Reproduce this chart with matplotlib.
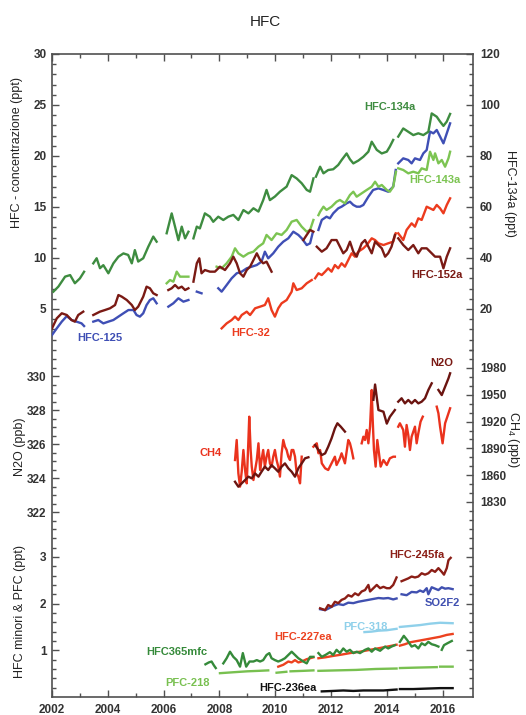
import numpy as np
import matplotlib
matplotlib.use("Agg")
import matplotlib.pyplot as plt

plt.rcParams['font.family'] = ['Liberation Sans', 'DejaVu Sans']
plt.rcParams['mathtext.default'] = 'regular'

nan = np.nan

# ---------------- top panel (ppt) ----------------
hfc134a_t = [2002.05, 2002.23, 2002.47, 2002.65, 2002.82, 2003.00, 2003.15, nan,
             2003.48, 2003.60, 2003.72, 2003.84, 2004.02, 2004.20, 2004.38, 2004.56, 2004.73, 2004.86, 2004.97, 2005.09, 2005.27, 2005.45, 2005.63, 2005.75, nan,
             2006.11, 2006.29, 2006.41, 2006.53, 2006.65, 2006.77, 2006.89, nan,
             2007.07, 2007.19, 2007.30, 2007.48, 2007.66, 2007.78, 2007.96, 2008.14, 2008.32, 2008.50, 2008.68, 2008.86, 2009.04, 2009.22, 2009.40, 2009.57, 2009.69, 2009.81, 2009.99, 2010.17, 2010.41, 2010.59, 2010.77, 2010.95, 2011.13, 2011.25, 2011.37, nan,
             2011.46, 2011.61, 2011.73, 2011.90, 2012.08, 2012.26, 2012.38, 2012.56, 2012.68, 2012.80, 2012.98, 2013.16, 2013.34, 2013.46, 2013.64, 2013.82, 2014.00, 2014.11, 2014.23, nan,
             2014.41, 2014.59, 2014.77, 2014.95, 2015.13, 2015.31, 2015.49, 2015.61, 2015.79, 2015.91, 2016.03, 2016.15, 2016.27]
hfc134a_v = [26.8, 28.8, 32.7, 33.3, 30.1, 32.0, 34.6, nan,
             37.9, 39.9, 36.0, 37.2, 34.0, 37.9, 40.5, 41.8, 41.2, 37.9, 43.1, 38.6, 39.9, 44.4, 48.4, 46.4, nan,
             49.7, 57.5, 52.3, 47.0, 52.3, 47.7, 50.3, nan,
             47.7, 52.3, 51.6, 57.5, 56.2, 54.2, 56.2, 54.9, 56.2, 56.9, 54.9, 58.8, 57.5, 59.5, 58.2, 62.7, 66.7, 62.7, 64.1, 66.0, 68.0, 72.5, 71.2, 69.3, 66.7, 66.0, 71.2, nan,
             71.9, 75.8, 73.2, 74.5, 74.8, 76.5, 78.4, 81.0, 78.7, 77.1, 78.2, 79.7, 81.7, 85.6, 82.4, 81.0, 81.7, 83.7, 86.3, nan,
             87.6, 90.8, 89.5, 88.2, 88.9, 88.2, 89.5, 96.7, 95.4, 93.5, 91.8, 93.5, 96.5]

hfc143a_t = [2006.11, 2006.23, 2006.35, 2006.47, 2006.59, 2006.71, 2006.89, nan,
             2007.90, 2008.08, 2008.26, 2008.44, 2008.56, 2008.68, 2008.86, 2009.04, 2009.22, 2009.40, 2009.57, 2009.69, 2009.87, 2010.05, 2010.23, 2010.41, 2010.59, 2010.77, 2010.95, 2011.13, 2011.25, 2011.37, nan,
             2011.55, 2011.61, 2011.73, 2011.84, 2012.02, 2012.20, 2012.32, 2012.50, 2012.68, 2012.80, 2012.92, 2013.10, 2013.28, 2013.46, 2013.58, 2013.70, 2013.82, 2014.00, 2014.11, 2014.23, 2014.33, nan,
             2014.41, 2014.59, 2014.77, 2014.95, 2015.13, 2015.25, 2015.43, 2015.55, 2015.67, 2015.73, 2015.85, 2015.97, 2016.09, 2016.21, 2016.27]
hfc143a_v = [7.52, 7.84, 7.68, 8.66, 8.17, 8.17, 8.17, nan,
             9.15, 8.99, 9.48, 10.13, 10.95, 10.46, 10.13, 10.46, 10.62, 11.11, 11.44, 12.26, 11.76, 12.42, 12.26, 12.75, 13.56, 13.73, 13.07, 12.58, 12.75, 13.73, nan,
             14.20, 14.54, 15.03, 14.71, 15.03, 15.52, 15.69, 15.36, 16.18, 16.50, 16.01, 16.34, 16.67, 16.99, 17.48, 16.99, 17.16, 16.67, 16.50, 16.99, 18.46, nan,
             18.79, 18.63, 18.30, 18.46, 18.30, 18.79, 18.63, 20.42, 19.61, 20.26, 19.28, 19.61, 18.95, 19.77, 20.42]

hfc125_t = [2002.00, 2002.17, 2002.35, 2002.53, 2002.70, 2002.88, 2003.06, 2003.15, nan,
            2003.48, 2003.66, 2003.84, 2004.02, 2004.20, 2004.38, 2004.56, 2004.74, 2004.92, 2005.03, 2005.15, 2005.27, 2005.39, 2005.51, 2005.63, 2005.75, nan,
            2006.17, 2006.35, 2006.53, 2006.71, 2006.89, nan,
            2007.19, 2007.36, nan,
            2007.96, 2008.08, 2008.26, 2008.44, 2008.62, 2008.80, 2008.98, 2009.16, 2009.34, 2009.51, 2009.63, 2009.75, 2009.93, 2010.11, 2010.29, 2010.47, 2010.65, 2010.83, 2010.95, 2011.13, 2011.25, 2011.34, nan,
            2011.55, 2011.67, 2011.84, 2011.96, 2012.08, 2012.26, 2012.38, 2012.56, 2012.68, 2012.80, 2012.92, 2013.04, 2013.16, 2013.34, 2013.51, 2013.70, 2013.88, 2014.05, 2014.23, 2014.32, nan,
            2014.41, 2014.59, 2014.77, 2014.89, 2015.01, 2015.19, 2015.31, 2015.43, 2015.55, 2015.67, 2015.79, 2015.91, 2016.03, 2016.15, 2016.27]
hfc125_v = [2.45, 3.10, 3.76, 4.30, 3.92, 3.76, 3.59, 3.33, nan,
            3.76, 3.92, 3.59, 3.76, 3.92, 4.25, 4.58, 4.90, 4.90, 4.41, 4.25, 4.58, 5.39, 5.88, 6.05, 5.56, nan,
            5.23, 5.56, 6.05, 5.72, 5.88, nan,
            6.70, 6.54, nan,
            7.03, 6.70, 7.35, 8.01, 8.50, 8.66, 8.99, 9.15, 9.31, 9.64, 10.62, 9.97, 10.46, 11.11, 11.60, 11.93, 12.58, 12.26, 11.93, 11.27, 11.44, 12.42, nan,
            12.75, 13.73, 14.05, 13.89, 14.38, 14.87, 15.03, 15.36, 15.52, 15.20, 15.03, 15.03, 15.20, 16.01, 16.67, 16.83, 16.67, 16.50, 16.99, 18.63, nan,
            19.28, 19.77, 19.61, 19.28, 19.77, 19.61, 20.26, 20.59, 22.39, 22.22, 22.55, 21.90, 21.24, 22.22, 23.20]

hfc152a_t = [2002.00, 2002.17, 2002.35, 2002.53, 2002.70, 2002.82, 2002.94, 2003.12, nan,
             2003.48, 2003.72, 2003.90, 2004.08, 2004.26, 2004.38, 2004.50, 2004.68, 2004.86, 2004.97, 2005.09, 2005.27, 2005.39, 2005.51, 2005.63, 2005.75, nan,
             2006.17, 2006.29, 2006.41, 2006.53, 2006.65, 2006.77, 2006.89, nan,
             2007.07, 2007.19, 2007.28, 2007.36, 2007.48, 2007.66, 2007.84, 2008.02, 2008.20, 2008.38, 2008.50, 2008.62, 2008.74, 2008.86, 2008.98, 2009.10, 2009.22, 2009.34, 2009.46, 2009.57, 2009.69, 2009.81, 2009.87, nan,
             2011.01, 2011.13, 2011.25, 2011.37, nan,
             2011.49, 2011.67, 2011.84, 2012.02, 2012.20, 2012.32, 2012.44, 2012.56, 2012.68, 2012.80, 2012.92, 2013.10, 2013.22, 2013.34, 2013.46, 2013.58, 2013.70, 2013.82, 2013.94, 2014.05, 2014.17, 2014.29, nan,
             2014.41, 2014.59, 2014.77, 2014.95, 2015.13, 2015.25, 2015.43, 2015.61, 2015.73, 2015.91, 2016.03, 2016.15, 2016.27]
hfc152a_v = [3.10, 4.08, 4.58, 4.41, 3.92, 3.76, 4.41, 4.74, nan,
             4.41, 4.74, 4.90, 5.07, 5.39, 6.37, 6.21, 5.88, 5.39, 4.90, 5.23, 6.21, 7.19, 7.03, 6.54, 6.37, nan,
             6.86, 7.03, 7.35, 7.03, 7.19, 6.86, 7.03, nan,
             7.68, 9.48, 9.97, 8.50, 8.82, 8.66, 8.66, 9.15, 8.82, 9.48, 10.13, 9.48, 8.50, 8.17, 8.82, 9.15, 9.80, 10.46, 9.80, 9.48, 9.64, 8.99, 8.66, nan,
             11.76, 12.26, 12.75, 12.58, nan,
             11.11, 10.62, 10.95, 11.76, 11.76, 11.11, 10.46, 10.78, 11.60, 10.62, 10.13, 11.44, 11.76, 11.11, 10.46, 11.60, 11.27, 10.95, 10.13, 10.46, 11.11, 12.26, nan,
             11.93, 11.27, 10.78, 11.27, 10.46, 10.95, 10.95, 10.46, 10.13, 10.13, 8.99, 10.13, 10.95]

hfc32_t = [2008.08, 2008.26, 2008.44, 2008.56, 2008.68, 2008.80, 2008.98, 2009.10, 2009.28, 2009.46, 2009.63, 2009.75, 2009.87, 2009.99, 2010.11, 2010.23, 2010.41, 2010.59, 2010.65, 2010.77, 2010.95, 2011.13, 2011.31, nan,
           2011.43, 2011.55, 2011.67, 2011.79, 2011.90, 2012.02, 2012.14, 2012.26, 2012.38, 2012.50, 2012.62, 2012.74, 2012.86, 2012.98, 2013.16, 2013.28, 2013.46, 2013.58, 2013.70, 2013.88, 2014.05, 2014.23, 2014.32, nan,
           2014.41, 2014.59, 2014.71, 2014.89, 2015.01, 2015.13, 2015.25, 2015.43, 2015.55, 2015.67, 2015.79, 2015.91, 2016.03, 2016.15, 2016.27]
hfc32_v = [3.10, 3.59, 3.92, 4.25, 3.92, 4.41, 4.74, 4.41, 5.07, 5.23, 5.39, 6.05, 4.90, 4.25, 5.07, 5.56, 5.88, 6.70, 7.52, 6.86, 7.03, 7.52, 7.84, nan,
           8.01, 8.50, 8.33, 8.66, 8.99, 8.66, 9.31, 8.99, 9.48, 9.15, 9.80, 10.46, 10.13, 10.62, 10.95, 11.27, 11.93, 11.76, 11.44, 11.27, 11.44, 11.60, 12.42, nan,
           12.42, 11.76, 12.75, 13.40, 13.07, 13.89, 13.73, 15.03, 14.87, 14.71, 15.20, 14.87, 14.38, 15.20, 15.85]

# ---------------- middle panel ----------------
n2o_t = [2008.56, 2008.68, 2008.80, 2008.92, 2009.04, 2009.16, 2009.28, 2009.40, 2009.51, 2009.63, 2009.75, 2009.87, 2009.99, 2010.11, 2010.23, 2010.35, 2010.47, 2010.59, 2010.71, 2010.83, 2010.95, 2011.07, 2011.19, nan,
         2011.43, 2011.55, 2011.67, 2011.79, 2011.90, 2012.02, 2012.14, 2012.23, 2012.35, 2012.50, nan,
         2013.52, 2013.58, 2013.70, 2013.88, 2014.00, 2014.11, 2014.29, nan,
         2014.41, 2014.53, 2014.65, 2014.77, 2014.89, 2015.01, 2015.13, 2015.25, 2015.37, 2015.49, 2015.61, nan,
         2015.85, 2015.97, 2016.09, 2016.21, 2016.27]
n2o_v = [323.78, 323.49, 323.69, 323.88, 324.08, 323.98, 324.27, 324.08, 324.37, 324.67, 324.47, 324.76, 324.57, 324.37, 324.67, 324.86, 324.57, 324.37, 324.08, 324.57, 324.86, 325.16, 325.22, nan,
         325.94, 325.65, 325.35, 325.45, 325.84, 326.33, 326.92, 327.22, 327.02, 326.73, nan,
         328.6, 329.5, 328.0, 327.9, 327.2, 327.6, 328.0, nan,
         328.49, 328.69, 328.39, 328.59, 328.39, 328.59, 328.39, 328.49, 328.69, 329.18, 329.57, nan,
         329.18, 328.88, 329.37, 329.86, 330.16]

ch4_t = [2008.56, 2008.62, 2008.68, 2008.74, 2008.80, 2008.86, 2008.92, 2008.98, 2009.04, 2009.07, 2009.12, 2009.16, 2009.22, 2009.28, 2009.34, 2009.40, 2009.46, 2009.51, 2009.57, 2009.63, 2009.69, 2009.75, 2009.81, 2009.87, 2009.93, 2009.99, 2010.05, 2010.11, 2010.17, 2010.23, 2010.29, 2010.35, 2010.41, 2010.47, 2010.53, 2010.59, 2010.65, 2010.71, 2010.77, 2010.83, 2010.89, 2010.95, nan,
         2011.37, 2011.49, 2011.55, 2011.61, 2011.67, 2011.79, 2011.90, 2012.02, 2012.14, 2012.20, 2012.32, 2012.38, 2012.50, 2012.62, 2012.68, 2012.74, 2012.80, nan,
         2013.10, 2013.16, 2013.22, 2013.28, 2013.34, 2013.40, 2013.46, 2013.49, 2013.54, 2013.60, 2013.66, 2013.72, 2013.78, 2013.88, 2014.00, 2014.11, 2014.23, 2014.29, nan,
         2014.41, 2014.47, 2014.59, 2014.65, 2014.71, 2014.77, 2014.83, 2014.89, 2015.01, 2015.07, 2015.13, 2015.21, 2015.29, nan,
         2015.79, 2015.85, 2015.91, 2016.00, 2016.09, 2016.17, 2016.27]
ch4_v = [1877.0, 1899.4, 1862.1, 1847.2, 1864.0, 1888.2, 1865.8, 1850.9, 1899.4, 1925.5, 1888.2, 1869.6, 1854.6, 1865.8, 1877.0, 1895.7, 1865.8, 1877.0, 1888.2, 1869.6, 1880.7, 1888.2, 1873.3, 1869.6, 1880.7, 1888.2, 1877.0, 1869.6, 1858.4, 1884.5, 1899.4, 1891.9, 1888.2, 1880.7, 1877.0, 1888.2, 1888.2, 1880.7, 1862.1, 1858.4, 1850.9, 1880.7, nan,
         1891.9, 1895.7, 1884.5, 1888.2, 1873.3, 1867.7, 1865.8, 1873.3, 1880.7, 1871.4, 1878.9, 1884.5, 1873.3, 1899.4, 1895.7, 1888.2, 1878.9, nan,
         1895.7, 1903.1, 1899.4, 1910.6, 1895.7, 1914.3, 1955.4, 1925.5, 1888.2, 1869.6, 1899.4, 1884.5, 1869.6, 1877.0, 1871.4, 1878.9, 1880.7, 1880.7, nan,
         1914.3, 1918.1, 1910.6, 1891.9, 1916.2, 1905.0, 1888.2, 1903.1, 1914.3, 1895.7, 1906.9, 1919.9, 1925.5, nan,
         1936.7, 1929.3, 1914.3, 1895.7, 1918.1, 1925.5, 1934.9]

# ---------------- bottom panel (ppt) ----------------
hfc245fa_t = [2011.61, 2011.79, 2011.90, 2012.02, 2012.14, 2012.26, 2012.38, 2012.50, 2012.62, 2012.74, 2012.86, 2012.98, 2013.10, 2013.22, 2013.34, 2013.40, 2013.52, 2013.64, 2013.76, 2013.88, 2014.00, 2014.11, 2014.23, 2014.35, nan,
              2014.53, 2014.65, 2014.77, 2014.89, 2015.01, 2015.13, 2015.25, 2015.37, 2015.49, 2015.61, 2015.73, 2015.85, 2015.97, 2016.05, 2016.15, 2016.21, 2016.29]
hfc245fa_v = [1.90, 1.86, 1.97, 1.93, 2.04, 2.01, 2.08, 2.11, 2.18, 2.15, 2.22, 2.18, 2.26, 2.29, 2.40, 2.26, 2.33, 2.40, 2.33, 2.36, 2.33, 2.33, 2.40, 2.56, nan,
              2.48, 2.51, 2.54, 2.58, 2.56, 2.58, 2.65, 2.62, 2.65, 2.72, 2.68, 2.76, 2.68, 2.62, 2.76, 2.93, 2.98]

so2f2_t = [2011.61, 2011.79, 2011.96, 2012.08, 2012.26, 2012.44, 2012.62, 2012.80, 2012.98, 2013.16, 2013.34, 2013.52, 2013.70, 2013.88, 2014.05, 2014.23, 2014.35, nan,
           2014.53, 2014.71, 2014.89, 2015.07, 2015.19, 2015.31, 2015.43, 2015.49, 2015.61, 2015.73, 2015.85, 2015.97, 2016.09, 2016.21, 2016.36]
so2f2_v = [1.88, 1.86, 1.91, 1.95, 1.99, 1.97, 2.02, 2.01, 2.04, 2.06, 2.08, 2.10, 2.12, 2.11, 2.12, 2.09, 2.11, nan,
           2.20, 2.18, 2.25, 2.24, 2.28, 2.25, 2.33, 2.20, 2.35, 2.32, 2.29, 2.35, 2.32, 2.33, 2.31]

pfc318_t = [2013.20, 2013.45, 2013.70, 2014.00, 2014.35, nan,
            2014.47, 2014.83, 2015.19, 2015.55, 2015.91, 2016.36]
pfc318_v = [1.39, 1.40, 1.42, 1.43, 1.46, nan,
            1.50, 1.52, 1.54, 1.57, 1.59, 1.58]

hfc227ea_t = [2010.11, 2010.29, 2010.47, 2010.59, 2010.71, 2010.83, 2010.95, 2011.13, 2011.25, 2011.37, nan,
              2011.55, 2011.80, 2012.08, 2012.40, 2012.68, 2013.04, 2013.40, 2013.76, 2014.11, 2014.35, nan,
              2014.47, 2014.65, 2014.83, 2015.00, 2015.19, 2015.37, 2015.55, 2015.73, 2015.91, 2016.15, 2016.36]
hfc227ea_v = [0.65, 0.69, 0.76, 0.74, 0.79, 0.74, 0.76, 0.81, 0.83, 0.85, nan,
              0.83, 0.85, 0.88, 0.91, 0.94, 0.97, 1.01, 1.05, 1.09, 1.12, nan,
              1.10, 1.13, 1.17, 1.19, 1.21, 1.23, 1.25, 1.27, 1.29, 1.33, 1.35]

hfc365mfc_t = [2007.50, 2007.62, 2007.72, 2007.80, 2007.87, nan,
               2008.14, 2008.26, 2008.38, 2008.50, 2008.62, 2008.74, 2008.84, 2008.96, 2009.08, 2009.22, 2009.34, 2009.46, 2009.57, 2009.69, 2009.79, 2009.87, 2009.99, 2010.11, 2010.23, 2010.35, 2010.47, 2010.59, 2010.71, 2010.83, 2011.01, 2011.13, 2011.25, 2011.37, nan,
               2011.55, 2011.67, 2011.80, 2011.96, 2012.08, 2012.20, 2012.32, 2012.44, 2012.56, 2012.68, 2012.80, 2012.92, 2013.04, 2013.22, 2013.34, 2013.46, 2013.58, 2013.76, 2013.94, 2014.05, 2014.17, 2014.29, nan,
               2014.47, 2014.61, 2014.73, 2014.89, 2015.01, 2015.13, 2015.25, 2015.37, 2015.49, 2015.61, 2015.73, 2015.85, nan,
               2015.97, 2016.05, 2016.17, 2016.33]
hfc365mfc_v = [0.70, 0.74, 0.76, 0.68, 0.62, nan,
               0.72, 0.83, 0.97, 0.86, 0.79, 0.65, 0.94, 0.65, 0.76, 0.76, 0.79, 0.76, 0.79, 0.90, 0.94, 0.83, 0.79, 0.76, 0.79, 0.83, 0.90, 0.97, 0.90, 0.83, 0.76, 0.72, 0.86, 0.86, nan,
               0.94, 0.86, 0.90, 0.96, 0.90, 1.01, 0.94, 1.04, 0.97, 1.01, 0.94, 0.97, 0.94, 1.01, 1.04, 0.97, 1.04, 0.99, 1.08, 1.04, 1.08, 1.11, nan,
               1.18, 1.31, 1.22, 1.08, 1.11, 1.04, 1.15, 1.11, 1.18, 1.13, 1.11, 1.08, nan,
               1.01, 1.11, 1.15, 1.20]

pfc218_t = [2008.02, 2008.50, 2009.00, 2009.40, 2009.75, nan,
            2010.05, 2010.40, nan,
            2010.55, 2011.00, 2011.37, nan,
            2011.55, 2012.20, 2012.90, 2013.60, 2014.35, nan,
            2014.47, 2015.10, 2015.79, nan,
            2015.91, 2016.36]
pfc218_v = [0.51, 0.53, 0.55, 0.56, 0.57, nan,
            0.52, 0.54, nan,
            0.55, 0.56, 0.57, nan,
            0.56, 0.57, 0.58, 0.60, 0.61, nan,
            0.62, 0.63, 0.64, nan,
            0.65, 0.65]

hfc236ea_t = [2011.67, 2012.08, 2012.44, 2012.80, 2013.16, 2013.52, 2013.88, 2014.35, nan,
              2014.47, 2014.95, 2015.43, 2015.91, 2016.36]
hfc236ea_v = [0.12, 0.13, 0.14, 0.13, 0.14, 0.14, 0.14, 0.16, nan,
              0.17, 0.17, 0.18, 0.19, 0.19]

x_major = [2002, 2004, 2006, 2008, 2010, 2012, 2014, 2016]

# ---------------- figure ----------------
W, H = 526, 715
fig = plt.figure(figsize=(W / 100, H / 100), dpi=100)
rect = [52 / W, 1 - 697 / H, 421 / W, 643 / H]

TXT = '#333333'
SP = '#505050'

ax3 = fig.add_axes(rect)
ax1 = fig.add_axes(rect, sharex=ax3)
ax2 = fig.add_axes(rect, sharex=ax3)
ax1r = ax1.twinx()
ax2r = ax2.twinx()

for a in (ax1, ax2, ax1r, ax2r):
    a.patch.set_visible(False)
    for s in a.spines.values():
        s.set_visible(False)
    a.tick_params(axis='x', which='both', bottom=False, top=False,
                  labelbottom=False, labeltop=False)

for s in ax3.spines.values():
    s.set_color(SP)
    s.set_linewidth(1.2)

ax3.set_xlim(2002, 2017.09)
ax3.set_xticks(x_major)
ax3.set_xticks([2003, 2005, 2007, 2009, 2011, 2013, 2015], minor=True)
ax3.tick_params(axis='x', which='both', direction='in', top=True, bottom=True,
                color=SP, labelcolor=TXT, labelsize=8.5, pad=5)
ax3.tick_params(axis='x', which='major', length=5, width=1)
ax3.tick_params(axis='x', which='minor', length=3, width=1)

lw = 1.7
# top panel
ax1.set_ylim(-33.04, 30)
ax1.plot(hfc125_t, hfc125_v, color='#3f4fb5', lw=lw)
ax1.plot(hfc143a_t, hfc143a_v, color='#7cc452', lw=lw)
ax1.plot(hfc32_t, hfc32_v, color='#ec3b1e', lw=lw)
ax1.plot(hfc152a_t, hfc152a_v, color='#7a1a14', lw=lw)
ax1.set_yticks([5, 10, 15, 20, 25, 30])
ax1.set_yticks([v for v in range(0, 31) if v % 5], minor=True)

ax1r.set_ylim(-132.16, 120)
ax1r.plot(hfc134a_t, hfc134a_v, color='#3e8c40', lw=lw)
ax1r.set_yticks([20, 40, 60, 80, 100, 120])
ax1r.set_yticks([v for v in range(0, 121, 4) if v % 20], minor=True)

# middle panel
ax2.set_ylim(311.12, 348.94)
ax2.plot(n2o_t, n2o_v, color='#6b1410', lw=lw, zorder=3)
ax2.set_yticks([322, 324, 326, 328, 330])
ax2.set_yticks([v for v in np.arange(321.5, 331.01, 0.5) if v % 2], minor=True)

ax2r.set_ylim(1611.7, 2331.5)
ax2r.plot(ch4_t, ch4_v, color='#ea321d', lw=lw)
ax2r.set_yticks([1830, 1860, 1890, 1920, 1950, 1980])
ax2r.set_yticks([v for v in range(1810, 2001, 10) if v % 30], minor=True)
ax2.set_zorder(ax2r.get_zorder() + 1)

# bottom panel
ax3.set_ylim(0, 13.77)
ax3.plot(pfc218_t, pfc218_v, color='#78c050', lw=lw)
ax3.plot(hfc236ea_t, hfc236ea_v, color='#111111', lw=lw)
ax3.plot(pfc318_t, pfc318_v, color='#8fd0ea', lw=lw)
ax3.plot(hfc227ea_t, hfc227ea_v, color='#ec4220', lw=lw)
ax3.plot(hfc365mfc_t, hfc365mfc_v, color='#358a3a', lw=lw)
ax3.plot(so2f2_t, so2f2_v, color='#4050b0', lw=lw)
ax3.plot(hfc245fa_t, hfc245fa_v, color='#8b1e16', lw=lw)
ax3.set_yticks([1, 2, 3])
ax3.set_yticks([round(v, 1) for v in np.arange(0.2, 3.61, 0.2) if abs(v - round(v)) > 1e-6], minor=True)

for a, side in ((ax1, 'left'), (ax2, 'left'), (ax3, 'left'), (ax1r, 'right'), (ax2r, 'right')):
    kw = dict(axis='y', which='both', direction='in', color=SP, labelcolor=TXT, labelsize=8.5)
    if side == 'left':
        a.tick_params(left=True, right=(a is ax3), labelleft=True, labelright=False, pad=4, **kw)
    else:
        a.tick_params(left=False, right=True, labelleft=False, labelright=True, pad=5, **kw)
    a.tick_params(axis='y', which='major', length=5, width=1)
    a.tick_params(axis='y', which='minor', length=3, width=1)
    for lab in a.get_yticklabels() + a.get_xticklabels():
        lab.set_fontweight('bold')
for lab in ax3.get_xticklabels():
    lab.set_fontweight('bold')

# series labels
lk = dict(fontsize=8, fontweight='bold', ha='center', va='center')
ax1r.text(2014.11, 99.2, 'HFC-134a', color='#3e8c40', **lk)
ax1.text(2015.73, 17.65, 'HFC-143a', color='#7cc452', **lk)
ax1.text(2015.80, 8.33, 'HFC-152a', color='#7a1a14', **lk)
ax1.text(2003.72, 2.16, 'HFC-125', color='#3f4fb5', **lk)
ax1.text(2009.13, 2.65, 'HFC-32', color='#ec3b1e', **lk)
ax2.text(2015.98, 330.76, 'N2O', color='#7a1a14', **lk)
ax2.text(2007.70, 325.47, 'CH4', color='#ea321d', **lk)
ax3.text(2015.08, 3.04, 'HFC-245fa', color='#8b1e16', **lk)
ax3.text(2015.98, 2.01, 'SO2F2', color='#4050b0', **lk)
ax3.text(2013.22, 1.50, 'PFC-318', color='#8fd0ea', **lk)
ax3.text(2011.0, 1.28, 'HFC-227ea', color='#ec4220', **lk)
ax3.text(2006.48, 0.97, 'HFC365mfc', color='#358a3a', **lk)
ax3.text(2006.84, 0.29, 'PFC-218', color='#78c050', **lk)
ax3.text(2010.46, 0.19, 'HFC-236ea', color='#111111', **lk)

# titles and axis labels
def ft(x, y, s, **kw):
    fig.text(x / W, 1 - y / H, s, ha='center', va='center', color='#222222', **kw)

ft(265, 22, 'HFC', fontsize=11)
ft(17, 153, 'HFC - concentrazione (ppt)', fontsize=9, rotation=90)
ft(20, 447, 'N2O (ppb)', fontsize=9, rotation=90)
ft(20, 612, 'HFC minori & PFC (ppt)', fontsize=9, rotation=90)
ft(510, 193, 'HFC-134a (ppt)', fontsize=9, rotation=-90)
ft(513, 440, 'CH$_4$ (ppb)', fontsize=9, rotation=-90)

fig.savefig('out.png', dpi=100)
